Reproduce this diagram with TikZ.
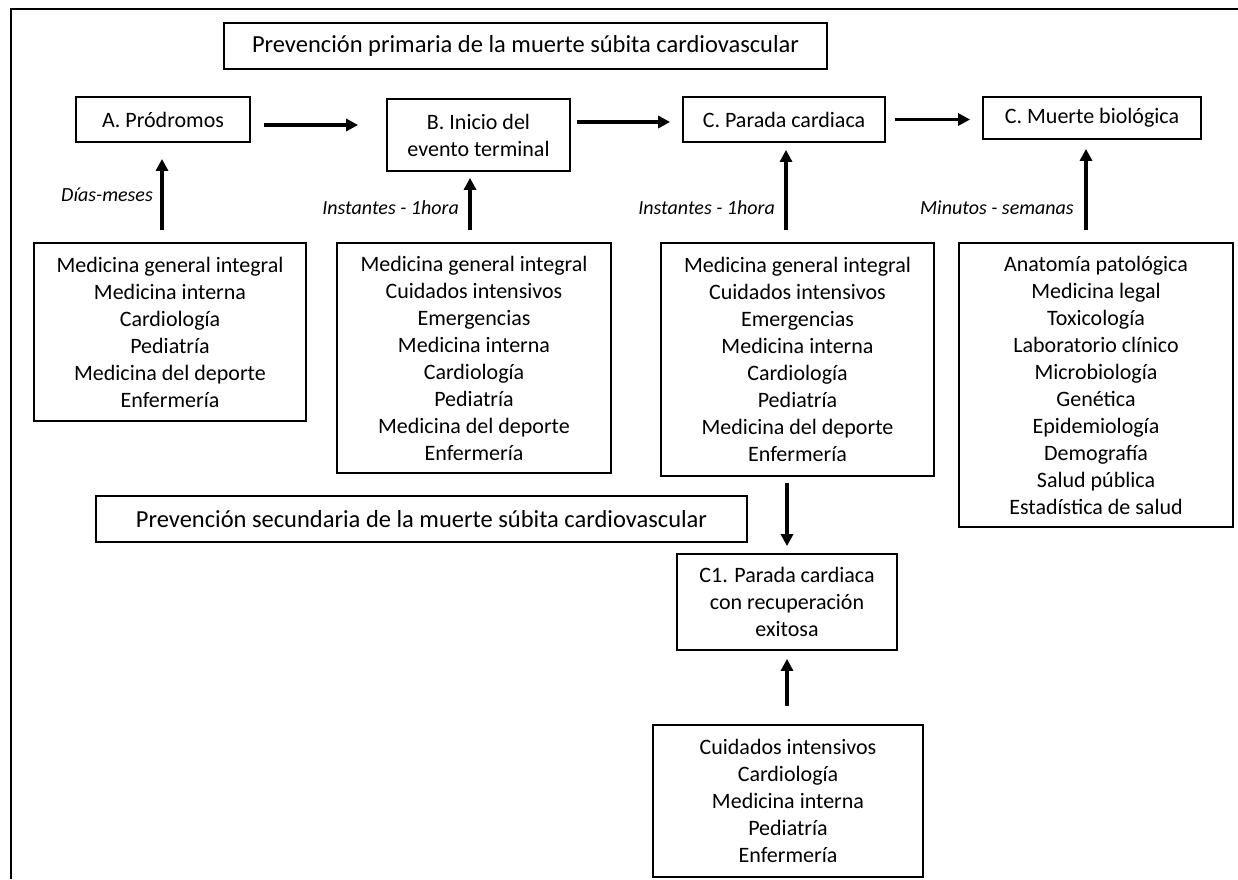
\documentclass[tikz,border=0pt]{standalone}
\usepackage{fontspec}
\setmainfont{Carlito}
\usetikzlibrary{arrows.meta,calc}
\begin{document}
\begin{tikzpicture}[x=1pt,y=-1pt,
  box/.style={draw, line width=1.8pt, inner sep=0pt, align=center, font=\fontsize{22}{27}\selectfont},
  ttl/.style={box, font=\fontsize{24.5}{29}\selectfont},
  lbl/.style={font=\fontsize{20}{24}\selectfont\itshape, anchor=east, inner sep=0pt},
  arr/.style={line width=3.6pt, -{Triangle[length=12pt,width=12pt]}}]
\useasboundingbox (0,0) rectangle (1238,879);
\draw[line width=2pt] (11,879) -- (11,9) -- (1238,9);

\node[ttl, minimum width=603, minimum height=46] (T1) at (525.5,46) {Prevención primaria de la muerte súbita cardiovascular};
\node[box, minimum width=174, minimum height=45] (A) at (163,119.5) {A. Pródromos};
\node[box, minimum width=183, minimum height=72] (B) at (478.5,135) {B. Inicio del\\evento terminal};
\node[box, minimum width=202, minimum height=45] (C) at (784,119.5) {C. Parada cardiaca};
\node[box, minimum width=218, minimum height=42] (D) at (1092,118) {C. Muerte biológica};

\node[box, minimum width=272, minimum height=178] (Alist) at (170,332) {Medicina general integral\\Medicina interna\\Cardiología\\Pediatría\\Medicina del deporte\\Enfermería};
\node[box, minimum width=274, minimum height=230] (Blist) at (474,358) {Medicina general integral\\Cuidados intensivos\\Emergencias\\Medicina interna\\Cardiología\\Pediatría\\Medicina del deporte\\Enfermería};
\node[box, minimum width=273, minimum height=233] (Clist) at (797.5,359.5) {Medicina general integral\\Cuidados intensivos\\Emergencias\\Medicina interna\\Cardiología\\Pediatría\\Medicina del deporte\\Enfermería};
\node[box, minimum width=274, minimum height=284] (Dlist) at (1096,385) {Anatomía patológica\\Medicina legal\\Toxicología\\Laboratorio clínico\\Microbiología\\Genética\\Epidemiología\\Demografía\\Salud pública\\Estadística de salud};

\node[ttl, minimum width=651, minimum height=46] (T2) at (421.5,519) {Prevención secundaria de la muerte súbita cardiovascular};
\node[box, minimum width=220, minimum height=96] (C1) at (787,602) {C1. Parada cardiaca\\con recuperación\\exitosa};
\node[box, minimum width=270, minimum height=152] (Bot) at (788,801) {Cuidados intensivos\\Cardiología\\Medicina interna\\Pediatría\\Enfermería};

% horizontal arrows
\draw[arr] ($(A.east)+(13,5.5)$) -- ($(A.east -| B.west)+(-28,5.5)$);
\draw[arr] ($(B.east |- C.east)+(6,2.5)$) -- ($(C.west)+(-12,2.5)$);
\draw[arr] ($(C.east)+(9,0)$) -- ($(C.east -| D.west)+(-12,0)$);

% vertical arrows
\draw[arr] ($(Alist.north)+(-8,-12)$) -- ($(A.south)+(-1,16)$);
\draw[arr] ($(Blist.north)+(-4,-12)$) -- ($(B.south)+(-8.5,6)$);
\draw[arr] ($(Clist.north)+(-11.5,-12)$) -- ($(C.south)+(2,7)$);
\draw[arr] ($(Dlist.north)+(-10,-12)$) -- ($(D.south)+(-6,9)$);
\draw[arr] ($(Clist.south)+(-10.5,6)$) -- ($(C1.north)+(0,-7)$);
\draw[arr] ($(Bot.north)+(-1,-18)$) -- ($(C1.south)+(0,8)$);

% labels
\node[lbl] (LA) at (153,195) {Días-meses};
\node[lbl] (LB) at (459,208) {Instantes - 1hora};
\node[lbl] (LC) at (775,208) {Instantes - 1hora};
\node[lbl] (LD) at (1074,208) {Minutos - semanas};
\end{tikzpicture}
\end{document}
